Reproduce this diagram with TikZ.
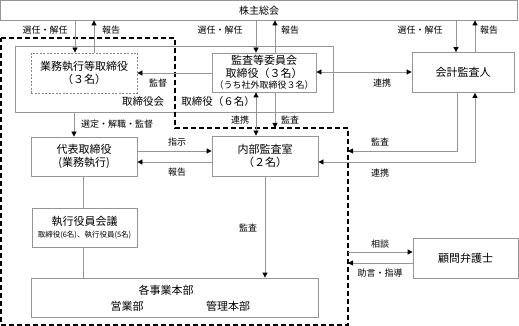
\documentclass[tikz,border=0pt]{standalone}
\usepackage{fontspec}
\setmainfont{Noto Sans CJK JP}
\usetikzlibrary{arrows.meta}
\definecolor{linegray}{RGB}{150,150,150}
\tikzset{
  box/.style={draw=linegray, line width=0.8pt, rectangle, inner sep=0pt, align=center,
    font=\fontsize{11}{12.5}\selectfont},
  dbox/.style={box, draw=linegray!90!black, dash pattern=on 2pt off 1.5pt},
  lbl/.style={font=\fontsize{9}{10}\selectfont, inner sep=0pt},
  conn/.style={draw=linegray, line width=0.8pt},
  tip/.style={-{Triangle[length=5pt,width=5pt,color=black,fill=black]}},
  dtip/.style={{Triangle[length=5pt,width=5pt,color=black,fill=black]}-{Triangle[length=5pt,width=5pt,color=black,fill=black]}},
  region/.style={draw=black, line width=1.1pt, dash pattern=on 5pt off 3pt},
}
\begin{document}
\begin{tikzpicture}[x=1pt,y=-1pt]
\useasboundingbox (0,0) rectangle (519,326);
% boxes
\node[box, minimum width=517pt, minimum height=19.5pt, font=\fontsize{10}{12}\selectfont] (kabu) at (259,10.25) {株主総会};
\node[box, minimum width=318pt, minimum height=66pt] (bod) at (174,79) {};
\node[dbox, minimum width=106pt, minimum height=40pt] (gyomu) at (84,73) {業務執行等取締役\\（３名）};
\node[box, minimum width=104pt, minimum height=39pt] (kansa) at (264,72.5) {監査等委員会\\取締役（３名）\\[-1pt]{\fontsize{9}{10}\selectfont （うち社外取締役３名）}};
\node[font=\fontsize{10.5}{12}\selectfont, inner sep=0pt] (bodl) at (143,102) {取締役会};
\node[font=\fontsize{10.5}{12}\selectfont, inner sep=0pt] (bodn) at (218,102) {取締役（６名）};
\node[box, minimum width=102pt, minimum height=40pt] (kaikei) at (463,72.5) {会計監査人};
\node[box, minimum width=106pt, minimum height=39pt] (daihyo) at (84,156.5) {代表取締役\\(業務執行)};
\node[box, minimum width=106pt, minimum height=40pt] (naibu) at (265,156) {内部監査室\\（２名）};
\node[box, minimum width=105pt, minimum height=39pt] (shikko) at (84.5,227.5) {執行役員会議\\[-1pt]{\fontsize{7.5}{9}\selectfont 取締役(6名)、執行役員(5名)}};
\node[box, minimum width=287pt, minimum height=39pt] (jigyo) at (174.5,297.5) {};
\node[font=\fontsize{11}{12}\selectfont, inner sep=0pt] (jigyot) at (166,290) {各事業本部};
\node[font=\fontsize{11}{12}\selectfont, inner sep=0pt] (eigyo) at (127,306) {営業部};
\node[font=\fontsize{11}{12}\selectfont, inner sep=0pt] (kanri) at (228,306) {管理本部};
\node[box, minimum width=105pt, minimum height=40pt] (komon) at (465.5,258) {顧問弁護士};
% dashed region
\draw[region] (1,38) -- (175,38) -- (175,128) -- (348,128) -- (348,325) -- (1,325) -- cycle;
\coordinate (dR) at (348,0);
\coordinate (dT) at (0,128);
% top arrows
\draw[conn,tip] (75,0 |- kabu.south) -- (75,0 |- gyomu.north);
\draw[conn,tip] (94,0 |- gyomu.north) -- (94,0 |- kabu.south);
\node[lbl] (l1) at (45,30) {選任・解任};
\node[lbl] (l2) at (111,30) {報告};
\draw[conn,tip] (256,0 |- kabu.south) -- (256,0 |- kansa.north);
\draw[conn,tip] (275,0 |- kansa.north) -- (275,0 |- kabu.south);
\node[lbl] (l3) at (220,30) {選任・解任};
\node[lbl] (l4) at (290,30) {報告};
\draw[conn,tip] (456,0 |- kabu.south) -- (456,0 |- kaikei.north);
\draw[conn,tip] (475,0 |- kaikei.north) -- (475,0 |- kabu.south);
\node[lbl] (l5) at (420,30) {選任・解任};
\node[lbl] (l6) at (489,30) {報告};
% board level
\draw[conn,tip] (kansa.west |- 0,73) -- (gyomu.east |- 0,73);
\node[lbl] (l7) at (158,83) {監督};
\draw[conn,dtip] (kansa.east |- 0,72) -- (kaikei.west |- 0,72);
\node[lbl] (l8) at (382,83) {連携};
\draw[conn,dtip] (256,0 |- kansa.south) -- (256,0 |- naibu.north);
\node[lbl] (l9) at (240,120) {連携};
\draw[conn,tip] (275,0 |- kansa.south) -- (275,0 |- dT);
\node[lbl] (l10) at (290,120) {監査};
\draw[conn,tip] (74,0 |- bod.south) -- (74,0 |- daihyo.north);
\node[lbl] (l11) at (117,124) {選定・解職・監督};
% middle
\draw[conn,tip] (daihyo.east |- 0,151) -- (naibu.west |- 0,151);
\node[lbl] (l12) at (177,142) {指示};
\draw[conn,tip] (naibu.west |- 0,162) -- (daihyo.east |- 0,162);
\node[lbl] (l13) at (177,172) {報告};
\draw[conn,tip] (457,0 |- kaikei.south) -- (457,151) -- (dR |- 0,151);
\node[lbl] (l14) at (380,142) {監査};
\draw[conn,dtip] (475,0 |- kaikei.south) -- (475,162) -- (naibu.east |- 0,162);
\node[lbl] (l15) at (380,173) {連携};
% lower
\draw[conn] (83,0 |- daihyo.south) -- (83,0 |- shikko.north);
\draw[conn] (83,0 |- shikko.south) -- (83,0 |- jigyo.north);
\draw[conn,tip] (265,0 |- naibu.south) -- (265,0 |- jigyo.north);
\node[lbl] (l16) at (248,228) {監査};
\draw[conn,tip] (dR |- 0,252) -- (komon.west |- 0,252);
\node[lbl] (l17) at (380,244) {相談};
\draw[conn,tip] (komon.west |- 0,263) -- (dR |- 0,263);
\node[lbl] (l18) at (380,273) {助言・指導};
\end{tikzpicture}
\end{document}
